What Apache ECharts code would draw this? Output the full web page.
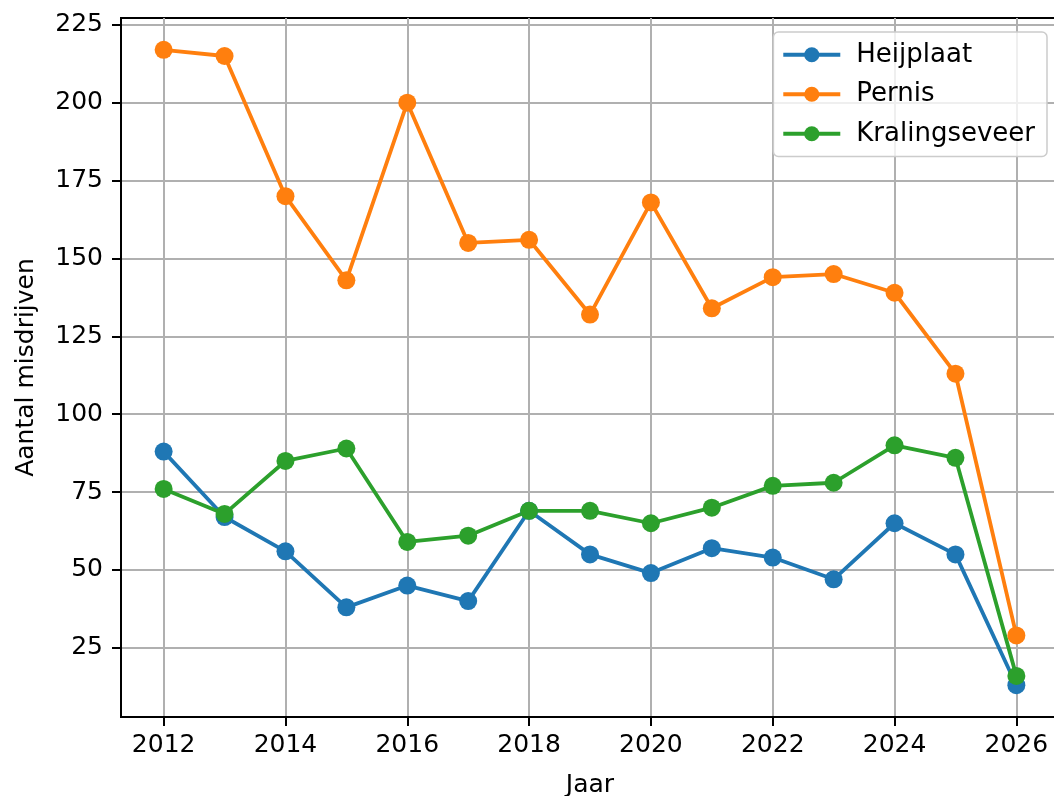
<!DOCTYPE html>
<html>
<head>
<meta charset="utf-8">
<script src="https://cdn.jsdelivr.net/npm/echarts@6/dist/echarts.min.js"></script>
<style>
  html, body { margin: 0; padding: 0; background: #fff; }
  #chart { width: 1054px; height: 796px; }
</style>
</head>
<body>
<div id="chart"></div>
<script>
const years = [2012, 2013, 2014, 2015, 2016, 2017, 2018, 2019, 2020, 2021, 2022, 2023, 2024, 2025, 2026]
const heijplaat = [88, 67, 56, 38, 45, 40, 69, 55, 49, 57, 54, 47, 65, 55, 13]
const pernis = [217, 215, 170, 143, 200, 155, 156, 132, 168, 134, 144, 145, 139, 113, 29]
const kralingseveer = [76, 68, 85, 89, 59, 61, 69, 69, 65, 70, 77, 78, 90, 86, 16]
const xTicks = [2012, 2014, 2016, 2018, 2020, 2022, 2024, 2026]
const yTicks = [25, 50, 75, 100, 125, 150, 175, 200, 225]

const font = 'DejaVu Sans'
const seriesDefs = [
  { name: 'Heijplaat', data: heijplaat, color: '#1f77b4' },
  { name: 'Pernis', data: pernis, color: '#ff7f0e' },
  { name: 'Kralingseveer', data: kralingseveer, color: '#2ca02c' }
]

const chart = echarts.init(document.getElementById('chart'), null, { renderer: 'canvas' })

chart.setOption({
  animation: false,
  textStyle: { fontFamily: font, color: '#000' },
  grid: {
    left: 121,
    right: -5,
    top: 18,
    bottom: 79,
    show: true,
    borderColor: '#000',
    borderWidth: 2,
    containLabel: false,
    outerBoundsMode: 'none'
  },
  legend: {
    orient: 'vertical',
    right: 7,
    top: 32,
    padding: [8, 12, 8, 8],
    backgroundColor: 'rgba(255,255,255,0.8)',
    borderColor: '#cccccc',
    borderWidth: 1.5,
    borderRadius: 5,
    itemWidth: 57,
    itemHeight: 19,
    itemGap: 10,
    lineStyle: { width: 3.8 },
    textStyle: { fontFamily: font, fontSize: 26, color: '#000', lineHeight: 29.5, padding: [0, 0, 0, 11] },
    data: seriesDefs.map((s) => s.name)
  },
  xAxis: {
    type: 'value',
    min: 2011.3,
    max: 2026.7,
    name: 'Jaar',
    nameLocation: 'middle',
    nameGap: 56,
    nameTextStyle: { fontFamily: font, fontSize: 25, color: '#000' },
    axisLine: { show: true, lineStyle: { color: '#000', width: 2 } },
    axisTick: { show: true, customValues: xTicks, length: 9, lineStyle: { color: '#000', width: 2 } },
    axisLabel: {
      customValues: xTicks,
      margin: 16,
      fontSize: 25,
      color: '#000',
      fontFamily: font,
      formatter: (v) => String(v)
    },
    splitLine: { show: true, lineStyle: { color: '#b0b0b0', width: 2 } }
  },
  yAxis: {
    type: 'value',
    min: 2.8,
    max: 227.2,
    name: 'Aantal misdrijven',
    nameLocation: 'middle',
    nameGap: 82,
    nameTextStyle: { fontFamily: font, fontSize: 25, color: '#000' },
    axisLine: { show: true, lineStyle: { color: '#000', width: 2 } },
    axisTick: { show: true, customValues: yTicks, length: 9, lineStyle: { color: '#000', width: 2 } },
    axisLabel: {
      customValues: yTicks,
      margin: 18,
      fontSize: 25,
      color: '#000',
      fontFamily: font
    },
    splitLine: { show: true, lineStyle: { color: '#b0b0b0', width: 2 } }
  },
  series: seriesDefs.map((s) => ({
    name: s.name,
    type: 'line',
    data: years.map((y, i) => [y, s.data[i]]),
    symbol: 'circle',
    symbolSize: 18,
    showAllSymbol: true,
    itemStyle: { color: s.color },
    lineStyle: { color: s.color, width: 3.8 },
    emphasis: { disabled: true }
  }))
})
</script>
</body>
</html>
